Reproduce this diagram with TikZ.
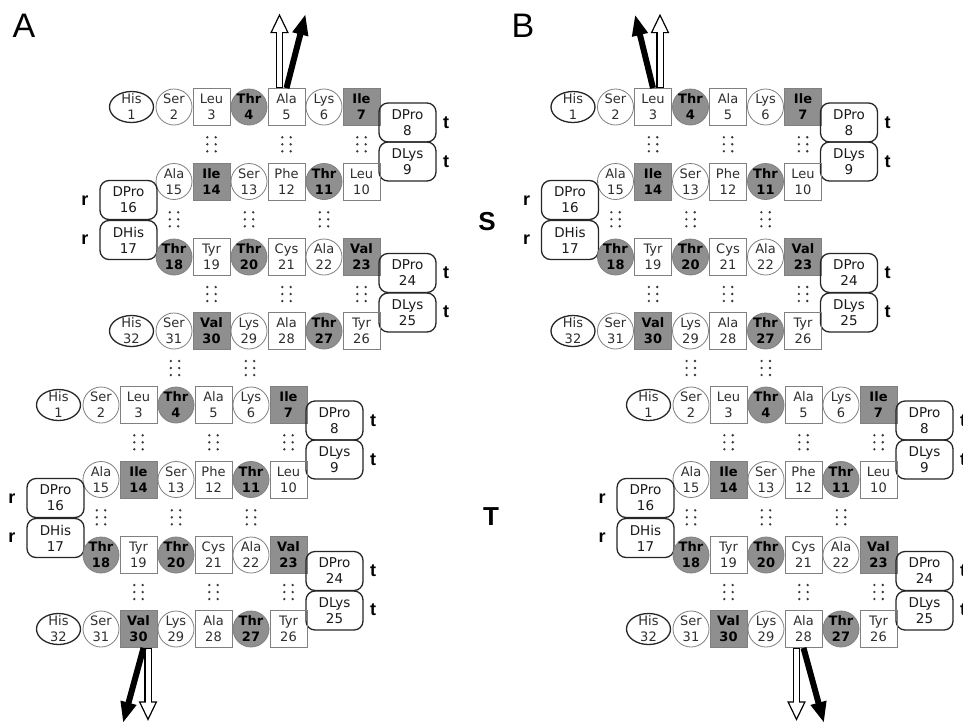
\documentclass[tikz,border=0pt]{standalone}
\usepackage{fontspec}
\setmainfont{DejaVu Sans}
\newfontfamily\labfont{Liberation Sans}
\usetikzlibrary{shapes.geometric,arrows.meta,calc}
\definecolor{shade}{gray}{0.56}
\definecolor{rline}{gray}{0.5}
\definecolor{rtext}{gray}{0.18}
\definecolor{dotc}{gray}{0.22}
\tikzset{
 res/.style={inner sep=0pt, align=center, font=\fontsize{13}{16}\selectfont, text=rtext, line width=0.8pt, draw=rline},
 circ/.style={res, circle, inner sep=-1.5pt, minimum size=36pt},
 sq/.style={res, rectangle, minimum size=37pt},
 gfill/.style={fill=shade, text=black, font=\fontsize{13}{16}\selectfont\bfseries},
 his/.style={res, ellipse, inner sep=-3pt, minimum width=44pt, minimum height=31pt, draw=black!85, line width=1.3pt},
 dbox/.style={res, rounded corners=9pt, minimum width=57pt, minimum height=39pt, draw=black!85, line width=1.3pt, text=black!90, font=\fontsize{13.5}{16}\selectfont},
 sidelab/.style={font=\labfont\bfseries\fontsize{18}{18}\selectfont, inner sep=0pt},
 panellab/.style={font=\labfont\fontsize{34}{34}\selectfont, inner sep=0pt},
 statelab/.style={font=\labfont\bfseries\fontsize{26}{26}\selectfont, inner sep=0pt},
 hb/.pic={\foreach \i in {-4.2,4.2}{\foreach \j in {-7,0,7}{\fill[dotc] (\i,\j) circle (1.3pt);}}},
 wout/.style={line width=7.5pt, -{Triangle[length=20pt,width=17pt]}},
 win/.style={white, line width=5pt, shorten >=3.2pt, shorten <=1.2pt, -{Triangle[length=15.5pt,width=13.2pt]}},
 blackarrow/.style={line width=6pt, -{Triangle[length=21pt,width=15pt]}},
}
\newcommand\sheet[3]{%
\begin{scope}[shift={(#2,#3)}]
\node[his] (#1-1) at (131.5,107) {His\\1};
\node[circ] (#1-2) at (174,107) {Ser\\2};
\node[sq] (#1-3) at (211.5,107) {Leu\\3};
\node[circ,gfill] (#1-4) at (249,107) {Thr\\4};
\node[sq] (#1-5) at (286.5,107) {Ala\\5};
\node[circ] (#1-6) at (324,107) {Lys\\6};
\node[sq,gfill] (#1-7) at (361.5,107) {Ile\\7};
\node[dbox] (#1-8) at (407.5,122.5) {DPro\\8};
\node[dbox] (#1-9) at (407.5,161.5) {DLys\\9};
\node[sq] (#1-10) at (361.5,181.5) {Leu\\10};
\node[circ,gfill] (#1-11) at (324,181.5) {Thr\\11};
\node[sq] (#1-12) at (286.5,181.5) {Phe\\12};
\node[circ] (#1-13) at (249,181.5) {Ser\\13};
\node[sq,gfill] (#1-14) at (211.5,181.5) {Ile\\14};
\node[circ] (#1-15) at (174,181.5) {Ala\\15};
\node[dbox] (#1-16) at (128.5,200) {DPro\\16};
\node[dbox] (#1-17) at (128.5,240) {DHis\\17};
\node[circ,gfill] (#1-18) at (174,257) {Thr\\18};
\node[sq] (#1-19) at (211.5,257) {Tyr\\19};
\node[circ,gfill] (#1-20) at (249,257) {Thr\\20};
\node[sq] (#1-21) at (286.5,257) {Cys\\21};
\node[circ] (#1-22) at (324,257) {Ala\\22};
\node[sq,gfill] (#1-23) at (361.5,257) {Val\\23};
\node[dbox] (#1-24) at (407.5,273) {DPro\\24};
\node[dbox] (#1-25) at (407.5,312.5) {DLys\\25};
\node[sq] (#1-26) at (361.5,331) {Tyr\\26};
\node[circ,gfill] (#1-27) at (324,331) {Thr\\27};
\node[sq] (#1-28) at (286.5,331) {Ala\\28};
\node[circ] (#1-29) at (249,331) {Lys\\29};
\node[sq,gfill] (#1-30) at (211.5,331) {Val\\30};
\node[circ] (#1-31) at (174,331) {Ser\\31};
\node[his] (#1-32) at (131.5,331) {His\\32};
\node[sidelab] (#1-t8) at (446,123) {t};
\node[sidelab] (#1-t9) at (446,162) {t};
\node[sidelab] (#1-t24) at (446,273) {t};
\node[sidelab] (#1-t25) at (446,312) {t};
\node[sidelab] (#1-r16) at (85,201) {r};
\node[sidelab] (#1-r17) at (85,240) {r};
\pic at ($(#1-3)!0.5!(#1-14)$) {hb};
\pic at ($(#1-5)!0.5!(#1-12)$) {hb};
\pic at ($(#1-7)!0.5!(#1-10)$) {hb};
\pic at ($(#1-15)!0.5!(#1-18)$) {hb};
\pic at ($(#1-13)!0.5!(#1-20)$) {hb};
\pic at ($(#1-11)!0.5!(#1-22)$) {hb};
\pic at ($(#1-19)!0.5!(#1-30)$) {hb};
\pic at ($(#1-21)!0.5!(#1-28)$) {hb};
\pic at ($(#1-23)!0.5!(#1-26)$) {hb};
\end{scope}}
\begin{document}
\begin{tikzpicture}[x=1pt,y=-1pt]
\useasboundingbox (0,0) rectangle (963,721);
\fill[white] (0,0) rectangle (963,721);
\sheet{A1}{0}{0}
\sheet{A2}{-73}{298}
\sheet{B1}{441.5}{0}
\sheet{B2}{517}{298}
% links between the two copies
\pic at ($(A1-31)!0.5!(A2-4)$) {hb};
\pic at ($(A1-29)!0.5!(A2-6)$) {hb};
\pic at ($(B1-29)!0.5!(B2-2)$) {hb};
\pic at ($(B1-27)!0.5!(B2-4)$) {hb};
% labels
\node[panellab] (labA) at (24,26) {A};
\node[panellab] (labB) at (523,26) {B};
\node[statelab] (labS) at (487,222) {S};
\node[statelab] (labT) at (491,517) {T};
% arrows panel A top
\coordinate (A1wb) at ($(A1-5.north)+(-7,0)$);
\coordinate (A1wt) at ($(A1-5.north)+(-7,-75)$);
\coordinate (A1bt) at (305.5,14);
\draw[wout] (A1wb) -- (A1wt);
\draw[win] (A1wb) -- (A1wt);
\draw[blackarrow] (A1-5.north) -- (A1bt);
% arrows panel A bottom
\coordinate (A2wb) at ($(A2-30.south)+(9.5,0)$);
\coordinate (A2wt) at ($(A2-30.south)+(9.5,73.5)$);
\coordinate (A2bs) at ($(A2-30.south)+(5,0)$);
\coordinate (A2bt) at (123,723);
\draw[wout] (A2wb) -- (A2wt);
\draw[win] (A2wb) -- (A2wt);
\draw[blackarrow] (A2bs) -- (A2bt);
% arrows panel B top
\coordinate (B1wb) at ($(B1-3.north)+(7,0)$);
\coordinate (B1wt) at ($(B1-3.north)+(7,-75)$);
\coordinate (B1bt) at (635,14.5);
\draw[wout] (B1wb) -- (B1wt);
\draw[win] (B1wb) -- (B1wt);
\draw[blackarrow] (B1-3.north) -- (B1bt);
% arrows panel B bottom
\coordinate (B2wb) at ($(B2-28.south)+(-7,0)$);
\coordinate (B2wt) at ($(B2-28.south)+(-7,73.5)$);
\coordinate (B2bt) at (824,723);
\draw[wout] (B2wb) -- (B2wt);
\draw[win] (B2wb) -- (B2wt);
\draw[blackarrow] (B2-28.south) -- (B2bt);
\end{tikzpicture}
\end{document}
